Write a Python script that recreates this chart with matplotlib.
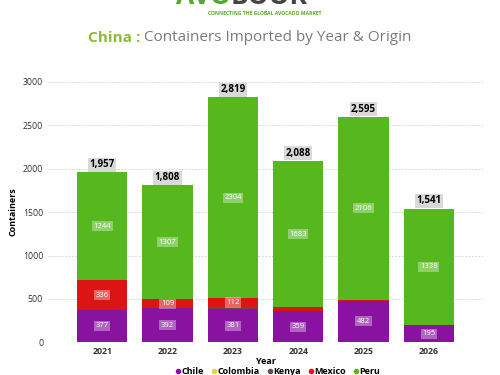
import numpy as np
import matplotlib.pyplot as plt

plt.rcParams['font.family'] = ['Open Sans', 'DejaVu Sans']

years = ['2021', '2022', '2023', '2024', '2025', '2026']
origins = ['Chile', 'Colombia', 'Kenya', 'Mexico', 'Peru']
chile = [377, 392, 381, 359, 482, 195]
colombia = [0, 0, 0, 0, 0, 0]
kenya = [0, 0, 22, 0, 0, 0]
mexico = [336, 109, 112, 46, 7, 8]
peru = [1244, 1307, 2304, 1683, 2106, 1338]

series = [chile, colombia, kenya, mexico, peru]
colors = ['#8a12a0', '#e3d443', '#6b4a4a', '#dc1414', '#56b81e']

fig = plt.figure(figsize=(5, 3.75), dpi=100)
ax = fig.add_axes([0.096, 0.087, 0.87, 0.695])

x = np.arange(len(years))
bottom = np.zeros(len(years))
for name, vals, col in zip(origins, series, colors):
    vals = np.array(vals)
    ax.bar(x, vals, 0.77, bottom=bottom, color=col, label=name, zorder=2)
    for i, v in enumerate(vals):
        if v >= 100:
            ax.text(x[i], bottom[i] + v / 2, str(v), ha='center', va='center',
                    fontsize=5.5, color='white', zorder=3,
                    bbox=dict(boxstyle='square,pad=0.2', fc='white', ec='none', alpha=0.35))
    bottom += vals

for i, t in enumerate(bottom):
    ax.text(x[i], t + 25, f'{int(t):,}', ha='center', va='bottom', fontsize=7,
            fontweight='bold', color='black', zorder=3,
            bbox=dict(boxstyle='square,pad=0.15', fc='#d9d9d9', ec='none'))

ax.set_xlim(-0.83, 5.83)
ax.set_ylim(0, 3000)
ax.set_yticks(np.arange(0, 3001, 500))
ax.set_xticks(x)
ax.set_xticklabels(years, fontweight='bold')
ax.tick_params(axis='both', length=0, labelsize=6.3, colors='#333333')
ax.tick_params(axis='x', pad=3)
ax.grid(axis='y', linestyle=(0, (2, 2)), color='#cccccc', linewidth=0.6, zorder=0)
for s in ax.spines.values():
    s.set_visible(False)

ax.set_ylabel('Containers', fontsize=6.5, fontweight='bold', labelpad=4)
ax.set_xlabel('Year', fontsize=6.5, fontweight='bold', labelpad=1)

handles = [plt.Line2D([], [], marker='o', linestyle='', color=c, markersize=3) for c in colors]
fig.legend(handles, origins, loc='center', bbox_to_anchor=(0.556, 0.009), ncol=5, frameon=False,
           handlelength=0.6, handletextpad=0.1, columnspacing=0.8, borderpad=0,
           prop={'weight': 'bold', 'size': 6.5})

# title: two parts, second placed right after the first
fig.canvas.draw()
t1 = fig.text(0.176, 0.9, 'China : ', fontsize=11, fontweight='bold', color='#8cbb35',
              ha='left', va='center')
bb = t1.get_window_extent(fig.canvas.get_renderer())
fig.text(bb.x1 / fig.bbox.width, 0.9, 'Containers Imported by Year & Origin', fontsize=11,
         color='#7a7a7a', ha='left', va='center')

# logo (cut off at the top, as in the original)
fig.text(0.462, 0.99, 'AVO', fontsize=19, fontweight='bold', color='#55a82a', ha='right', va='baseline')
fig.text(0.462, 0.99, 'BOOK', fontsize=19, fontweight='bold', color='#444444', ha='left', va='baseline')
fig.text(0.53, 0.964, 'CONNECTING THE GLOBAL AVOCADO MARKET', fontsize=3.6, fontweight='bold',
         color='#55a82a', ha='center', va='center')

fig.savefig('out.png', dpi=100)
